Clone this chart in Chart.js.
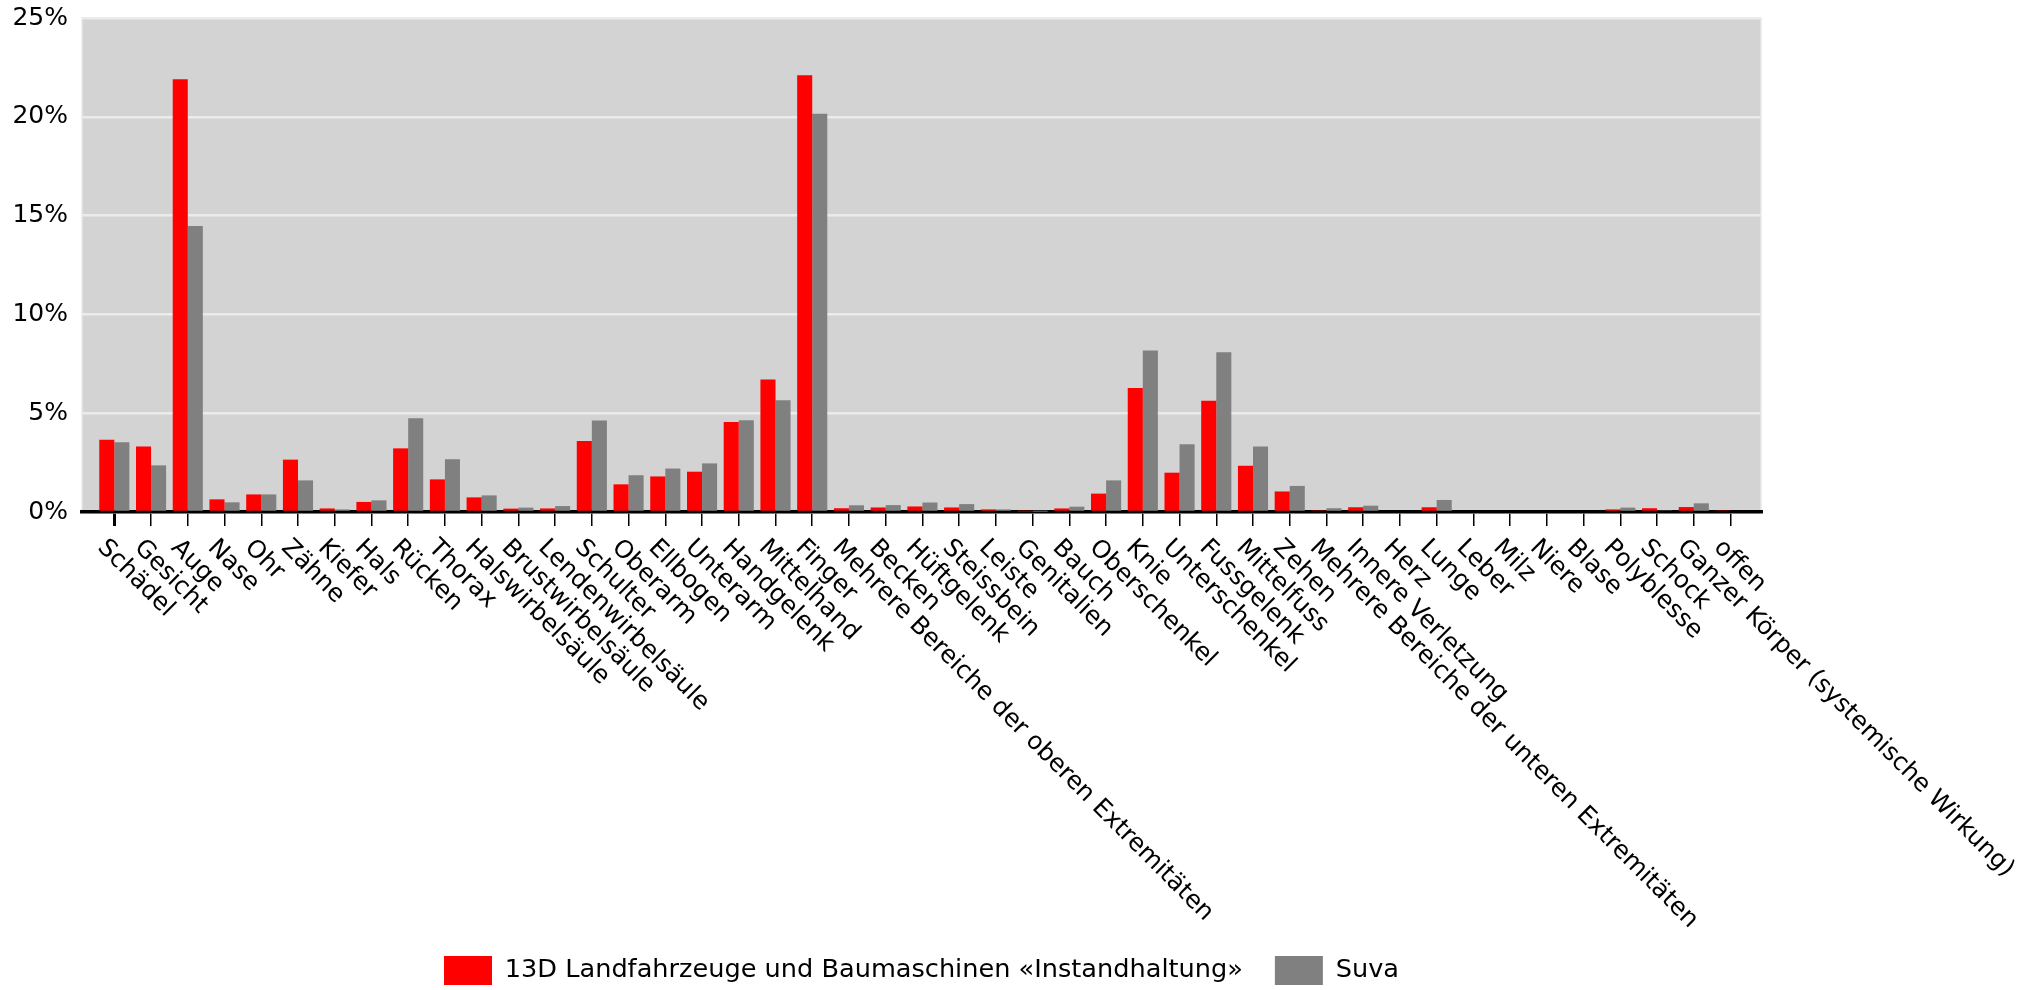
<!DOCTYPE html>
<html lang="de">
<head>
<meta charset="UTF-8">
<title>Verletzte Körperteile</title>
<script src="https://cdn.jsdelivr.net/npm/chart.js"></script>
<style>
  html, body { margin: 0; padding: 0; background: #fff; }
</style>
</head>
<body>
<canvas id="myChart" width="2033" height="990"></canvas>
<script>
const categories = [
  'Schädel', 'Gesicht', 'Auge', 'Nase', 'Ohr', 'Zähne', 'Kiefer', 'Hals', 'Rücken', 'Thorax',
  'Halswirbelsäule', 'Brustwirbelsäule', 'Lendenwirbelsäule', 'Schulter', 'Oberarm', 'Ellbogen',
  'Unterarm', 'Handgelenk', 'Mittelhand', 'Finger', 'Mehrere Bereiche der oberen Extremitäten',
  'Becken', 'Hüftgelenk', 'Steissbein', 'Leiste', 'Genitalien', 'Bauch', 'Oberschenkel', 'Knie',
  'Unterschenkel', 'Fussgelenk', 'Mittelfuss', 'Zehen', 'Mehrere Bereiche der unteren Extremitäten',
  'Innere Verletzung', 'Herz', 'Lunge', 'Leber', 'Milz', 'Niere', 'Blase', 'Polyblesse', 'Schock',
  'Ganzer Körper (systemische Wirkung)', 'offen'
];

// 13D Landfahrzeuge und Baumaschinen «Instandhaltung», in %
const branche = [
  3.66, 3.31, 21.9, 0.64, 0.89, 2.65, 0.18, 0.51, 3.22, 1.65,
  0.74, 0.17, 0.18, 3.59, 1.40, 1.80, 2.04, 4.55, 6.70, 22.1,
  0.19, 0.23, 0.28, 0.23, 0.13, 0.03, 0.18, 0.93, 6.28, 1.99,
  5.63, 2.34, 1.04, 0.08, 0.24, 0, 0.24, 0, 0, 0,
  0, 0.13, 0.19, 0.25, 0.08
];

// Suva gesamt, in %
const suva = [
  3.53, 2.36, 14.47, 0.49, 0.89, 1.60, 0.13, 0.59, 4.74, 2.67,
  0.84, 0.22, 0.30, 4.63, 1.86, 2.20, 2.46, 4.64, 5.65, 20.16,
  0.34, 0.35, 0.48, 0.40, 0.13, 0.02, 0.27, 1.60, 8.17, 3.43,
  8.08, 3.31, 1.32, 0.19, 0.32, 0, 0.61, 0, 0, 0,
  0, 0.22, 0.08, 0.44, 0
];

const seriesNames = ['13D Landfahrzeuge und Baumaschinen «Instandhaltung»', 'Suva'];
const yTicks = [0, 5, 10, 15, 20, 25];

const FONT = 'DejaVu Sans';

// grauer Hintergrund der Zeichenfläche
const plotBackground = {
  id: 'plotBackground',
  beforeDraw(chart) {
    const { ctx, chartArea: a } = chart;
    ctx.save();
    ctx.fillStyle = '#d3d3d3';
    ctx.fillRect(a.left, a.top, a.right - a.left, a.bottom - a.top);
    ctx.strokeStyle = '#e8e8e8';
    ctx.lineWidth = 1.5;
    ctx.strokeRect(a.left, a.top, a.right - a.left, a.bottom - a.top);
    ctx.restore();
  }
};

// schräge Achsenbeschriftung, Text beginnt am Tick
const rotatedLabels = {
  id: 'rotatedLabels',
  afterDraw(chart) {
    const xs = chart.scales.x;
    const ctx = chart.ctx;
    ctx.save();
    ctx.font = '24.6px "' + FONT + '"';
    ctx.fillStyle = '#000';
    ctx.textAlign = 'left';
    ctx.textBaseline = 'middle';
    categories.forEach((name, i) => {
      const px = xs.getPixelForValue(i);
      ctx.save();
      ctx.translate(px - 13, xs.top + 32);
      ctx.rotate(Math.PI / 4);
      ctx.fillText(name, 0, 0);
      ctx.restore();
    });
    ctx.restore();
  }
};

const ctx = document.getElementById('myChart').getContext('2d');
new Chart(ctx, {
  type: 'bar',
  data: {
    datasets: [
      {
        label: seriesNames[0],
        data: branche.map((v, i) => ({ x: i, y: v })),
        backgroundColor: '#ff0000',
        borderWidth: 0,
        categoryPercentage: 0.82,
        barPercentage: 1
      },
      {
        label: seriesNames[1],
        data: suva.map((v, i) => ({ x: i, y: v })),
        backgroundColor: '#808080',
        borderWidth: 0,
        categoryPercentage: 0.82,
        barPercentage: 1
      }
    ]
  },
  options: {
    responsive: false,
    animation: false,
    layout: { padding: { top: 18, right: 272, bottom: -5, left: 0 } },
    scales: {
      x: {
        type: 'linear',
        min: -0.88,
        max: 44.83,
        offset: false,
        afterBuildTicks: s => { s.ticks = categories.map((c, i) => ({ value: i })); },
        afterFit: s => { s.height = 412; s.paddingLeft = 0; s.paddingRight = 0; },
        ticks: { display: false },
        grid: {
          drawOnChartArea: false,
          offset: false,
          tickLength: 14,
          color: '#000',
          lineWidth: c => (c.index === 0 ? 3 : 1.5)
        },
        border: { display: true, color: '#000', width: 3.5 }
      },
      y: {
        min: 0,
        max: 25,
        afterFit: s => { s.width = 82; s.paddingTop = 0; s.paddingBottom = 0; },
        afterBuildTicks: s => { s.ticks = yTicks.map(v => ({ value: v })); },
        ticks: {
          padding: 14,
          color: '#000',
          font: { size: 25, family: FONT },
          callback: v => v + '%'
        },
        grid: { color: '#ebebeb', lineWidth: 2.5, drawTicks: false },
        border: { display: false }
      }
    },
    plugins: {
      tooltip: { enabled: false },
      legend: {
        position: 'bottom',
        fullSize: false,
        labels: {
          boxWidth: 48,
          boxHeight: 29,
          padding: 32,
          color: '#000',
          font: { size: 25.6, family: FONT }
        }
      }
    }
  },
  plugins: [plotBackground, rotatedLabels]
});
</script>
</body>
</html>
